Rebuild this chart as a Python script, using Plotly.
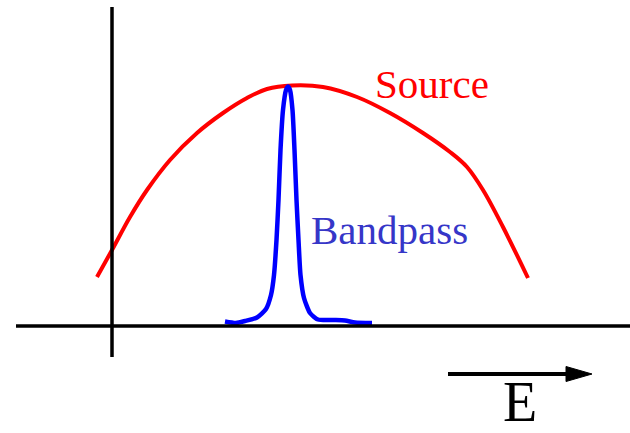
import plotly.graph_objects as go

# Source spectrum (energy, intensity) - schematic units
source_E = [-0.15, 0.00, 0.18, 0.35, 0.58, 0.85, 1.11, 1.35, 1.55, 1.80, 2.11,
            2.45, 2.78, 3.11, 3.38, 3.55, 3.71, 3.91, 4.16]
source_I = [0.49, 0.76, 1.09, 1.36, 1.66, 1.93, 2.13, 2.28, 2.37, 2.405, 2.39,
            2.29, 2.13, 1.93, 1.74, 1.59, 1.36, 0.99, 0.48]

# Bandpass response
band_E = [1.13, 1.24, 1.33, 1.45, 1.54, 1.59, 1.62, 1.645, 1.665, 1.685, 1.71, 1.74,
          1.76, 1.78, 1.805, 1.825, 1.845, 1.865, 1.885, 1.92, 1.98, 2.06, 2.21,
          2.33, 2.43, 2.60]
band_I = [0.045, 0.03, 0.05, 0.085, 0.17, 0.31, 0.51, 0.86, 1.26, 1.76, 2.16, 2.36,
          2.395, 2.36, 2.16, 1.76, 1.26, 0.86, 0.51, 0.28, 0.13, 0.065, 0.06,
          0.055, 0.035, 0.03]

labels = {"source": "Source", "band": "Bandpass", "axis": "E"}

XR = [-1.12, 5.18]
YR = [-1.07, 3.26]

fig = go.Figure()
fig.add_trace(go.Scatter(x=source_E, y=source_I, mode="lines",
                         line=dict(color="#ff0000", width=4, shape="spline", smoothing=1.0),
                         hoverinfo="skip"))
fig.add_trace(go.Scatter(x=band_E, y=band_I, mode="lines",
                         line=dict(color="#0000ff", width=4.5, shape="spline", smoothing=0.6),
                         hoverinfo="skip"))

shapes = [
    # horizontal axis
    dict(type="line", x0=-0.96, x1=XR[1], y0=0, y1=0, line=dict(color="black", width=3.5)),
    # vertical axis
    dict(type="line", x0=0, x1=0, y0=-0.31, y1=3.19, line=dict(color="black", width=3.5)),
    # energy arrow shaft
    dict(type="line", x0=3.36, x1=4.58, y0=-0.48, y1=-0.48, line=dict(color="black", width=4)),
    # arrow head
    dict(type="path", path="M 4.54,-0.405 L 4.80,-0.48 L 4.54,-0.555 Z",
         fillcolor="black", line=dict(color="black", width=1)),
]

annotations = [
    dict(x=2.61, y=2.42, text=labels["source"], showarrow=False, xanchor="left", yanchor="middle",
         font=dict(family="Liberation Serif, Times New Roman, serif", size=41, color="#ff0000")),
    dict(x=1.97, y=0.96, text=labels["band"], showarrow=False, xanchor="left", yanchor="middle",
         font=dict(family="Liberation Serif, Times New Roman, serif", size=41, color="#3636c8")),
    dict(x=4.08, y=-0.76, text=labels["axis"], showarrow=False, xanchor="center", yanchor="middle",
         font=dict(family="Liberation Serif, Times New Roman, serif", size=56, color="black")),
]

fig.update_layout(
    width=630, height=433,
    margin=dict(l=0, r=0, t=0, b=0),
    paper_bgcolor="white", plot_bgcolor="white",
    showlegend=False,
    xaxis=dict(range=XR, visible=False, fixedrange=True),
    yaxis=dict(range=YR, visible=False, fixedrange=True),
    shapes=shapes,
    annotations=annotations,
)

fig.write_html("out.html", config={"displayModeBar": False},
               post_script="document.body.style.margin='0';document.body.style.overflow='hidden';")
